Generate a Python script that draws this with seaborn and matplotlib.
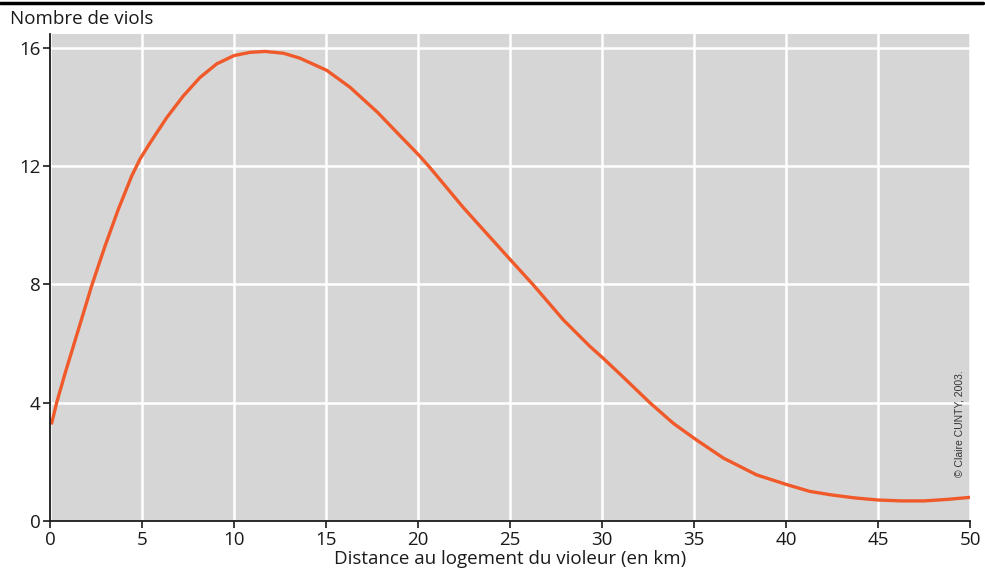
import seaborn as sns
import matplotlib.pyplot as plt
import matplotlib.lines as mlines
import pandas as pd

# valeurs
distance_km = [0.09, 0.36, 0.82, 1.54, 2.27, 2.99, 3.71, 4.44, 4.89, 5.45, 6.34, 7.25, 8.15,
               9.06, 10.0, 10.87, 11.68, 12.68, 13.59, 15.04, 16.3, 17.8, 19.02, 20.05,
               20.65, 22.46, 25.04, 26.27, 27.9, 29.35, 30.07, 31.16, 32.6, 33.88, 35.09,
               36.59, 38.4, 40.1, 41.3, 42.5, 43.75, 45.0, 46.25, 47.5, 48.75, 50.0]
nb_viols = [3.31, 4.0, 5.0, 6.47, 7.97, 9.3, 10.54, 11.67, 12.24, 12.8, 13.64, 14.38, 15.0,
            15.46, 15.74, 15.85, 15.88, 15.82, 15.65, 15.24, 14.67, 13.82, 13.03, 12.37,
            11.95, 10.6, 8.82, 7.98, 6.8, 5.9, 5.5, 4.86, 4.0, 3.3, 2.76,
            2.13, 1.56, 1.22, 1.0, 0.88, 0.78, 0.71, 0.68, 0.68, 0.73, 0.80]
x_ticks = [0, 5, 10, 15, 20, 25, 30, 35, 40, 45, 50]
y_ticks = [0, 4, 8, 12, 16]

df = pd.DataFrame({"distance": distance_km, "viols": nb_viols})

sns.set_theme(style="darkgrid", rc={
    "axes.facecolor": "#d6d6d6",
    "grid.color": "white",
    "grid.linewidth": 1.8,
    "axes.edgecolor": "#1a1a1a",
    "xtick.bottom": True,
    "ytick.left": True,
})
plt.rcParams['font.family'] = ['Open Sans', 'DejaVu Sans']

fig = plt.figure(figsize=(9.85, 5.82), dpi=100)
ax = fig.add_axes([0.0508, 0.1048, 0.934, 0.8368])

sns.lineplot(data=df, x="distance", y="viols", ax=ax, color="#f05a2a", linewidth=2.4)

ax.set_xlim(0, 50)
ax.set_ylim(0, 16.47)
ax.set_xticks(x_ticks)
ax.set_yticks(y_ticks)
ax.tick_params(axis="both", labelsize=13.5, length=5, width=1.2, color="#1a1a1a",
               labelcolor="#1a1a1a", pad=2)
for s in ["top", "right"]:
    ax.spines[s].set_visible(False)
for s in ["left", "bottom"]:
    ax.spines[s].set_visible(True)
    ax.spines[s].set_linewidth(1.3)

ax.set_xlabel("Distance au logement du violeur (en km)", fontsize=13.5, color="#1a1a1a", labelpad=1)
ax.set_ylabel("")
fig.text(0.0102, 0.968, "Nombre de viols", fontsize=13.5, color="#1a1a1a", va="center", ha="left")

ax.text(0.989, 0.09, "© Claire CUNTY, 2003.", transform=ax.transAxes, rotation=90,
        ha="center", va="bottom", fontsize=7.5, color="#333333",
        family=['Liberation Sans Narrow', 'Liberation Sans', 'DejaVu Sans'])

# trait noir en haut
fig.add_artist(mlines.Line2D([0, 0.998], [0.995, 0.995], transform=fig.transFigure,
                             color="black", linewidth=2.5))

fig.savefig("out.png", dpi=100)
